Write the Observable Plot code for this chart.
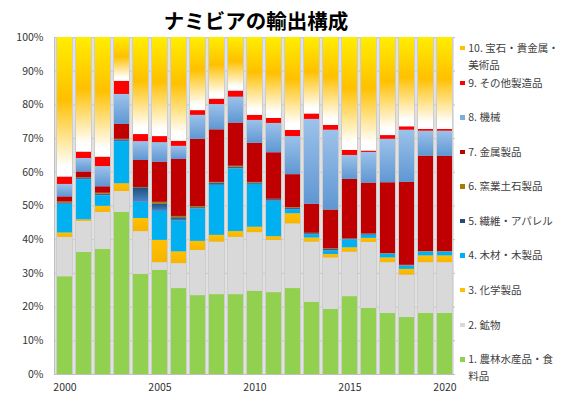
<!DOCTYPE html>
<html><head><meta charset="utf-8">
<script src="https://cdn.jsdelivr.net/npm/d3@7"></script>
<script src="https://cdn.jsdelivr.net/npm/@observablehq/plot@0.6"></script>
<style>
body{margin:0;background:#fff;font-family:"Noto Sans CJK JP","Noto Sans",sans-serif;}
#wrap{position:relative;width:563px;height:408px;overflow:hidden;}
#title{position:absolute;left:0;width:512px;top:6px;text-align:center;font-size:20.5px;font-weight:bold;line-height:28px;color:#000;}
#chart{position:absolute;left:0;top:0;}
.item{position:absolute;left:460px;font-size:10.5px;line-height:16.7px;color:#404040;}
.item .mk{position:absolute;left:0;top:6px;width:4.5px;height:4.5px;}
.item .tx{position:absolute;left:8.3px;top:0;white-space:pre;}
</style>
</head><body>
<div id="wrap"><div id="chart"></div><div id="title">ナミビアの輸出構成</div></div>
<script>
const years = ["2000","2001","2002","2003","2004","2005","2006","2007","2008","2009","2010","2011","2012","2013","2014","2015","2016","2017","2018","2019","2020"];
const categories = ["1. 農林水産品・食\n料品","2. 鉱物","3. 化学製品","4. 木材・木製品","5. 繊維・アパレル","6. 窯業土石製品","7. 金属製品","8. 機械","9. その他製造品","10. 宝石・貴金属・\n美術品"];
const agri      = [29.0,36.2,37.1,48.1,29.7,30.9,25.5,23.4,23.7,23.7,24.7,24.3,25.5,21.4,19.3,23.1,19.6,18.1,16.9,18.1,18.1];
const minerals  = [11.7,9.2,11.0,6.2,12.7,2.3,7.4,13.4,15.6,17.0,17.4,15.5,19.2,17.9,15.3,13.2,19.6,15.1,12.6,15.1,15.1];
const chemicals = [1.3,0.5,1.8,2.3,3.9,6.6,3.5,2.7,2.0,1.7,1.6,1.1,3.0,1.2,1.0,1.3,1.2,1.4,1.7,2.0,2.0];
const wood      = [8.5,11.9,3.1,12.5,4.8,8.6,9.1,9.6,14.8,18.6,12.7,10.5,1.2,1.0,1.0,2.4,0.9,1.1,1.0,1.1,1.1];
const textiles  = [0.4,0.5,0.5,0.5,4.3,2.2,1.0,0.4,0.7,0.5,0.4,0.5,0.4,0.3,0.5,0.1,0.3,0.1,0.1,0.1,0.1];
const ceramics  = [0.3,0.1,0.3,0.2,0.1,0.5,0.4,0.3,0.2,0.3,0.2,0.1,0.2,0.1,0.2,0.1,0.1,0.1,0.1,0.1,0.1];
const metals    = [1.5,1.7,1.9,4.4,8.0,11.9,16.9,20.0,15.6,12.8,11.6,13.8,9.8,8.6,11.5,17.7,15.1,21.0,24.6,28.3,28.2];
const machinery = [3.7,4.0,6.0,8.9,5.6,5.8,3.9,7.1,7.5,7.7,6.8,8.7,11.3,25.2,23.7,7.1,9.1,12.9,15.5,7.4,7.5];
const otherMfg  = [2.2,1.9,2.8,3.9,2.1,1.8,1.5,1.4,1.6,1.8,1.5,1.5,1.8,1.6,1.4,1.5,0.4,1.1,1.0,0.5,0.5];
const gems      = [41.4,34.0,35.5,13.0,28.8,29.4,30.8,21.7,18.3,15.9,23.1,24.0,27.6,22.7,26.1,33.5,33.7,29.1,26.5,27.3,27.3];
const yTicks = [0,10,20,30,40,50,60,70,80,90,100];
const xTicks = ["2000","2005","2010","2015","2020"];

const series = [agri,minerals,chemicals,wood,textiles,ceramics,metals,machinery,otherMfg,gems];
const table = [];
years.forEach((yr,i)=>series.forEach((s,c)=>table.push({year:yr,cat:categories[c],value:s[i]})));

// gradient definitions (top -> bottom stops) per category
const grads = [
  [[0,"#92D050"],[1,"#92D050"]],
  [[0,"#D9D9D9"],[1,"#D9D9D9"]],
  [[0,"#FFC000"],[1,"#F7B500"]],
  [[0,"#00B0F0"],[1,"#00B0F0"]],
  [[0,"#1F4E79"],[1,"#4A86C8"]],
  [[0,"#A67C00"],[1,"#A67C00"]],
  [[0,"#C00000"],[1,"#C00000"]],
  [[0,"#9CC2EA"],[1,"#5F97D3"]],
  [[0,"#FF0000"],[1,"#FF0000"]],
  [[0,"#FFEE00"],[0.45,"#FFC000"],[0.93,"#FFFFFF"],[1,"#FFFFFF"]]
];
const markerColors = ["#92D050","#D9D9D9","#FFC000","#00B0F0","#1F4E79","#A67C00","#C00000","#7AAEE0","#FF0000","#FFC000"];
const urls = grads.map((g,i)=>`url(#gr${i})`);

const plot = Plot.plot({
  width:563, height:408,
  marginLeft:54, marginRight:108, marginTop:37, marginBottom:34,
  style:{fontFamily:'"Noto Sans CJK JP","Noto Sans",sans-serif', fontSize:"10.5px", color:"#333", background:"transparent"},
  x:{type:"band", domain:years, paddingInner:0.23, paddingOuter:0.115, label:null},
  y:{domain:[0,100], label:null},
  color:{type:"ordinal", domain:categories, range:urls},
  marks:[
    Plot.ruleY(yTicks,{stroke:"#BFBFBF", strokeWidth:1}),
    Plot.frame({anchor:"left", stroke:"#BFBFBF"}),
    Plot.barY(years,{x:d=>d, y1:0, y2:100, fill:"#CDCDCD", insetLeft:-1.6, insetRight:-1.6}),
    Plot.barY(table, Plot.stackY({x:"year", y:"value", fill:"cat", order:null})),
    Plot.axisY({ticks:yTicks, tickFormat:d=>d+"%", tickSize:0, tickPadding:11, fill:"#333"}),
    Plot.axisX({ticks:xTicks, tickSize:0, tickPadding:9, fill:"#333"})
  ]
});
const ns="http://www.w3.org/2000/svg";
const defs=document.createElementNS(ns,"defs");
grads.forEach((g,i)=>{
  const lg=document.createElementNS(ns,"linearGradient");
  lg.setAttribute("id","gr"+i);lg.setAttribute("x1","0");lg.setAttribute("y1","0");lg.setAttribute("x2","0");lg.setAttribute("y2","1");
  g.forEach(([o,c])=>{const st=document.createElementNS(ns,"stop");st.setAttribute("offset",o);st.setAttribute("stop-color",c);lg.appendChild(st);});
  defs.appendChild(lg);
});
plot.insertBefore(defs, plot.firstChild);
document.getElementById("chart").appendChild(plot);

// legend (top to bottom: 10 ... 1)
const wrap=document.getElementById("wrap");
const order=d3.range(categories.length).reverse();
order.forEach((c,k)=>{
  const yc=48.3+k*34.57;
  const it=document.createElement("div");it.className="item";it.style.top=(yc-8.35)+"px";
  const mk=document.createElement("div");mk.className="mk";mk.style.background=markerColors[c];
  const tx=document.createElement("div");tx.className="tx";tx.textContent=categories[c];
  it.appendChild(mk);it.appendChild(tx);wrap.appendChild(it);
});
</script>
</body></html>
